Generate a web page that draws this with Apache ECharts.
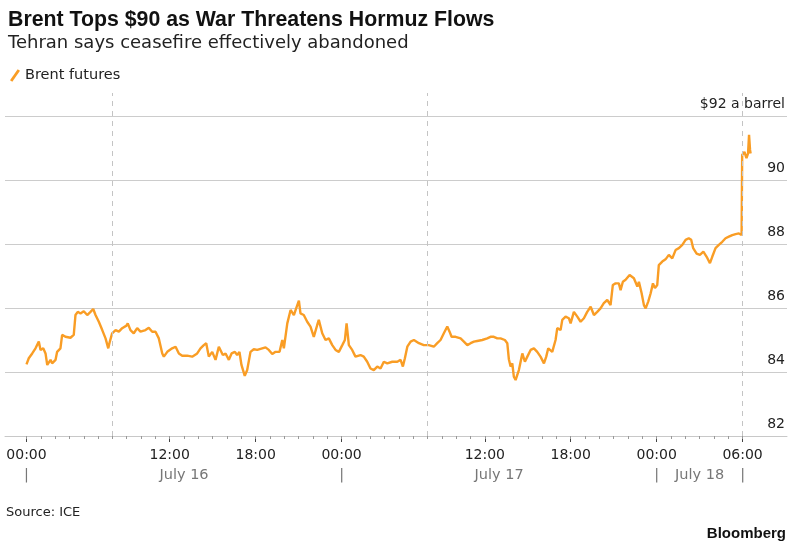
<!DOCTYPE html>
<html>
<head>
<meta charset="utf-8">
<script src="https://cdn.jsdelivr.net/npm/echarts@6/dist/echarts.min.js"></script>
<style>
  html, body { margin: 0; padding: 0; background: #fff; }
  #chart { width: 800px; height: 550px; }
</style>
</head>
<body>
<div id="chart"></div>
<script>
// x values are trading hours since 00:00 July 16 (the 06:00-08:00 break is collapsed)
const hours = [
  0.00, 0.16, 0.40, 0.63, 0.86, 0.98, 1.17, 1.33, 1.45, 1.68, 1.79, 2.03, 2.14, 2.37, 2.49, 2.72,
  3.07, 3.30, 3.42, 3.58, 3.77, 4.00, 4.24, 4.47, 4.66, 4.82, 5.05, 5.29, 5.52, 5.71, 5.82, 5.98,
  6.22, 6.45, 6.68, 6.98, 7.07, 7.26, 7.49, 7.73, 7.96, 8.31, 8.54, 8.78, 9.01, 9.24, 9.48, 9.59,
  9.83, 10.17, 10.41, 10.64, 10.87, 11.22, 11.57, 11.92, 12.15, 12.38, 12.55, 12.73, 12.97, 13.20,
  13.43, 13.55, 13.71, 13.90, 14.13, 14.32, 14.55, 14.71, 14.87, 15.01, 15.24, 15.41, 15.64, 15.87,
  16.11, 16.46, 16.69, 16.92, 17.16, 17.39, 17.67, 17.86, 17.97, 18.21, 18.44, 18.67, 18.83, 19.02,
  19.13, 19.36, 19.60, 19.83, 20.06, 20.30, 20.41, 20.65, 20.88, 21.11, 21.35, 21.58, 21.81, 22.05,
  22.23, 22.35, 22.51, 22.74, 22.97, 23.09, 23.32, 23.55, 23.79, 24.02, 24.25, 24.49, 24.72, 24.95,
  25.19, 25.54, 25.89, 26.12, 26.28, 26.42, 26.59, 26.82, 27.05, 27.40, 27.74, 28.09, 28.44, 28.68,
  28.91, 29.14, 29.38, 29.54, 29.68, 29.96, 30.31, 30.54, 30.78, 31.01, 31.24, 31.47, 31.82, 32.17,
  32.40, 32.63, 32.87, 33.10, 33.40, 33.57, 33.68, 33.80, 33.92, 34.03, 34.15, 34.38, 34.62, 34.80,
  34.97, 35.20, 35.43, 35.66, 35.89, 36.13, 36.29, 36.43, 36.71, 36.94, 37.06, 37.29, 37.41, 37.64,
  37.87, 37.99, 38.22, 38.46, 38.69, 38.92, 39.15, 39.39, 39.62, 39.85, 40.08, 40.31, 40.55, 40.78,
  40.94, 41.13, 41.36, 41.48, 41.64, 41.83, 42.11, 42.41, 42.65, 42.76, 42.95, 43.11, 43.23, 43.41,
  43.58, 43.74, 43.88, 44.04, 44.15, 44.39, 44.62, 44.74, 44.85, 45.09, 45.32, 45.55, 45.79, 46.02,
  46.24, 46.41, 46.55, 46.79, 47.02, 47.26, 47.49, 47.72, 47.88, 48.11, 48.34, 48.58, 48.81, 49.04,
  49.28, 49.51, 49.74, 49.93, 49.97, 50.13, 50.27, 50.38, 50.45, 50.52, 50.56
];
const brent = [
  84.24, 84.43, 84.58, 84.74, 84.95, 84.69, 84.74, 84.58, 84.22, 84.38, 84.27, 84.38, 84.63, 84.74, 85.16, 85.10,
  85.07, 85.16, 85.78, 85.88, 85.83, 85.90, 85.78, 85.88, 85.97, 85.78, 85.57, 85.31, 85.05, 84.74, 84.95, 85.21,
  85.31, 85.26, 85.37, 85.45, 85.52, 85.31, 85.21, 85.37, 85.26, 85.31, 85.38, 85.26, 85.26, 85.05, 84.58, 84.48,
  84.63, 84.74, 84.79, 84.58, 84.51, 84.51, 84.48, 84.58, 84.74, 84.84, 84.90, 84.48, 84.63, 84.38,
  84.79, 84.84, 84.53, 84.58, 84.38, 84.58, 84.63, 84.53, 84.63, 84.22, 83.88, 84.06, 84.63, 84.71,
  84.69, 84.74, 84.77, 84.69, 84.56, 84.63, 84.63, 85.00, 84.74, 85.52, 85.94, 85.78, 85.99, 86.23,
  85.83, 85.78, 85.57, 85.42, 85.10, 85.47, 85.63, 85.21, 85.00, 85.05, 84.84, 84.69, 84.63, 84.84,
  85.00, 85.52, 84.84, 84.69, 84.48, 84.43, 84.53, 84.48, 84.32, 84.11, 84.06, 84.17, 84.11, 84.32,
  84.27, 84.32, 84.32, 84.38, 84.17, 84.43, 84.79, 84.95, 85.00, 84.90, 84.84, 84.84, 84.79, 84.90,
  85.00, 85.21, 85.42, 85.26, 85.10, 85.10, 85.05, 84.95, 84.84, 84.90, 84.95, 84.97, 85.00, 85.05,
  85.10, 85.10, 85.05, 85.05, 85.00, 84.90, 84.40, 84.17, 84.27, 83.85, 83.75, 84.06, 84.58, 84.32,
  84.48, 84.69, 84.74, 84.63, 84.48, 84.27, 84.48, 84.74, 84.63, 85.00, 85.37, 85.31, 85.63, 85.73,
  85.68, 85.52, 85.88, 85.73, 85.57, 85.68, 85.88, 86.04, 85.78, 85.88, 85.99, 86.15, 86.25, 86.09,
  86.72, 86.77, 86.77, 86.56, 86.82, 86.88, 87.03, 86.93, 86.67, 86.82, 86.46, 86.09, 85.99, 86.20,
  86.46, 86.77, 86.62, 86.72, 87.34, 87.45, 87.52, 87.55, 87.66, 87.55, 87.81, 87.87, 87.97, 88.13,
  88.18, 88.13, 87.87, 87.70, 87.66, 87.76, 87.60, 87.40, 87.60, 87.87, 87.97, 88.07, 88.18, 88.23,
  88.28, 88.31, 88.33, 88.28, 90.78, 90.88, 90.68, 90.83, 91.41, 90.94, 90.83
];

const timeTickHours = [0, 10, 16, 22, 32, 38, 44, 50];
const timeTickLabels = ['00:00', '12:00', '18:00', '00:00', '12:00', '18:00', '00:00', '06:00'];
const dateHours = [11, 33, 47];
const dateLabels = ['July 16', 'July 17', 'July 18'];
const dayMarkHours = [0, 22, 44, 50];
const sessionBreakHours = [6, 28, 50];
const hourTicks = [];
for (let h = 0; h <= 50; h++) hourTicks.push(h);

const font = 'Liberation Sans, Arial, sans-serif';
const wideFont = 'DejaVu Sans, sans-serif';
const xMin = -1.5, xMax = 53.1;

const chart = echarts.init(document.getElementById('chart'), null, { renderer: 'canvas' });

const dateRowValues = dayMarkHours.concat(dateHours).sort((a, b) => a - b);

const option = {
  animation: false,
  textStyle: { fontFamily: wideFont },
  title: [
    {
      text: 'Brent Tops $90 as War Threatens Hormuz Flows',
      left: 3, top: 5,
      textStyle: { fontSize: 21.3, fontWeight: 'bold', color: '#111', fontFamily: font }
    },
    {
      text: 'Tehran says ceasefire effectively abandoned',
      left: 3, top: 29,
      textStyle: { fontSize: 18, fontWeight: 'normal', color: '#222', fontFamily: wideFont }
    }
  ],
  legend: {
    left: 5, top: 63,
    itemWidth: 10, itemHeight: 13, itemGap: 10,
    icon: 'path://M0,11.6 L8,0 L10.4,1.6 L2.4,13.2 Z',
    textStyle: { fontSize: 14.5, color: '#222', fontFamily: wideFont },
    data: ['Brent futures']
  },
  grid: [
    { left: 5, right: 13, top: 116, bottom: 114 },
    { left: 5, right: 13, top: 93, bottom: 114 }
  ],
  xAxis: [
    {
      type: 'value', min: xMin, max: xMax, position: 'bottom',
      axisLine: { lineStyle: { color: '#c8c8c8', width: 1 } },
      splitLine: { show: false },
      axisTick: { customValues: timeTickHours, length: 6, lineStyle: { color: '#444' } },
      axisLabel: {
        customValues: timeTickHours, margin: 12, fontSize: 14, color: '#222', fontFamily: wideFont,
        formatter: v => timeTickLabels[timeTickHours.indexOf(v)]
      }
    },
    {
      type: 'value', min: xMin, max: xMax, position: 'bottom',
      axisLine: { show: false },
      splitLine: { show: false },
      axisTick: { customValues: hourTicks, length: 3, lineStyle: { color: '#999' } },
      axisLabel: { show: false }
    },
    {
      type: 'value', min: xMin, max: xMax, position: 'bottom',
      axisLine: { show: false },
      splitLine: { show: false },
      axisTick: { show: false },
      axisLabel: {
        customValues: dateRowValues, margin: 32, fontSize: 14.5, color: '#777', fontFamily: wideFont,
        formatter: v => {
          const i = dateHours.indexOf(v);
          return i >= 0 ? dateLabels[i] : '|';
        }
      }
    },
    {
      type: 'value', gridIndex: 1, min: xMin, max: xMax, show: false
    }
  ],
  yAxis: [
    {
      type: 'value', min: 82, max: 92, interval: 2, position: 'right',
      axisLine: { show: false },
      axisTick: { show: false },
      splitLine: { lineStyle: { color: '#cccccc', width: 1 } },
      axisLabel: {
        inside: true, margin: 2, verticalAlign: 'bottom', lineHeight: 14,
        padding: [0, 0, 5, 0], fontSize: 14, color: '#222', fontFamily: wideFont,
        formatter: v => (v === 92 ? '$92 a barrel' : String(v))
      }
    },
    { type: 'value', gridIndex: 1, min: 0, max: 1, show: false }
  ],
  series: [
    {
      name: 'session breaks',
      type: 'line',
      xAxisIndex: 3,
      yAxisIndex: 1,
      z: 1,
      silent: true,
      showSymbol: false,
      lineStyle: { opacity: 0 },
      data: [[sessionBreakHours[0], 0]],
      markLine: {
        silent: true,
        symbol: 'none',
        label: { show: false },
        lineStyle: { type: [5, 5], color: '#c4c4c4', width: 1 },
        data: sessionBreakHours.map(h => ({ xAxis: h }))
      }
    },
    {
      name: 'Brent futures',
      type: 'line',
      xAxisIndex: 0,
      yAxisIndex: 0,
      z: 3,
      showSymbol: false,
      color: '#f99d25',
      lineStyle: { width: 2.4, color: '#f99d25' },
      data: hours.map((h, i) => [h, brent[i]])
    }
  ],
  graphic: [
    {
      type: 'text', left: 6, top: 506,
      style: { text: 'Source: ICE', font: '13px ' + wideFont, fill: '#222' }
    },
    {
      type: 'text', right: 14, top: 526,
      style: { text: 'Bloomberg', font: 'bold 15px ' + font, fill: '#111' }
    }
  ]
};

chart.setOption(option);
</script>
</body>
</html>
